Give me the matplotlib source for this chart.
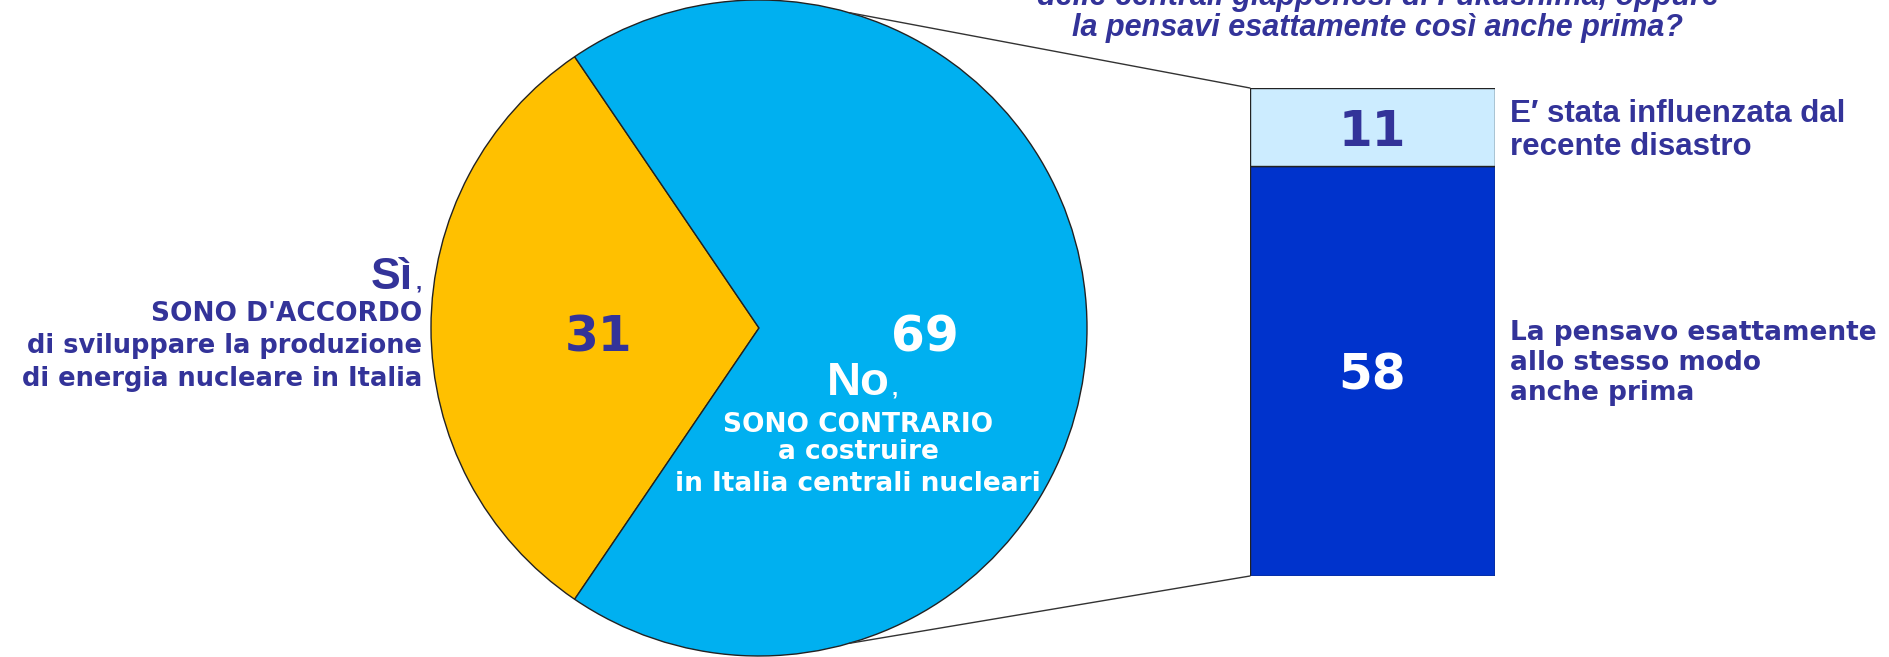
import matplotlib.pyplot as plt
from matplotlib.patches import ConnectionPatch
import numpy as np

# opinione sul nucleare (%)
pie_labels = ['Sì', 'No']
pie_values = [31, 69]
pie_colors = ['#FFC000', '#00B0F0']

# scomposizione dei "No" (%)
bar_values = [58, 11]
bar_colors = ['#0033CC', '#CCECFF']
bar_text_colors = ['white', '#333399']

title_lines = ['delle centrali giapponesi di Fukushima, oppure',
               'la pensavi esattamente così anche prima?']

navy = '#333399'
narrow = ['Liberation Sans Narrow', 'Liberation Sans', 'DejaVu Sans']
arial = ['Liberation Sans', 'DejaVu Sans']
verdana = ['DejaVu Sans']

W, H = 1890, 657
fig = plt.figure(figsize=(W / 100, H / 100), dpi=100)
ax = fig.add_axes([0, 0, 1, 1])

# torta a sinistra, coordinate in pixel con y verso l'alto
cx, cy, r = 759, 329, 328
wedges, _ = ax.pie(pie_values, colors=pie_colors, center=(cx, cy), radius=r,
                   startangle=180 - pie_values[0] * 3.6 / 2, counterclock=True,
                   wedgeprops=dict(edgecolor='#222222', linewidth=1.0))
ax.set_xlim(0, W)
ax.set_ylim(0, H)
ax.set_aspect('equal')
ax.axis('off')

# barra a destra per i "No"
bx0, bx1, by0, by1 = 1250, 1495, H - 576, H - 88
axb = fig.add_axes([bx0 / W, by0 / H, (bx1 - bx0) / W, (by1 - by0) / H])
bottom = 0
for v, c, tc in zip(bar_values, bar_colors, bar_text_colors):
    axb.bar(0, v, bottom=bottom, width=1, color=c, edgecolor='#222222', linewidth=1.0)
    axb.text(0, bottom + v / 2, str(v), ha='center', va='center_baseline', color=tc,
             fontsize=35, fontweight='bold', family=verdana)
    bottom += v
axb.set_xlim(-0.5, 0.5)
axb.set_ylim(0, sum(bar_values))
axb.axis('off')

# linee di collegamento torta -> barra
ang = np.deg2rad(74)
for sgn, yb in [(1, sum(bar_values)), (-1, 0)]:
    p = (cx + r * np.cos(ang), cy + sgn * r * np.sin(ang))
    con = ConnectionPatch(xyA=p, coordsA=ax.transData, xyB=(-0.5, yb), coordsB=axb.transData,
                          color='#333333', linewidth=1.0)
    fig.add_artist(con)

# valori della torta
ax.text(599, H - 352, str(pie_values[0]), ha='center', va='baseline', color=navy,
        fontsize=35, fontweight='bold', family=verdana)
ax.text(925, H - 352, str(pie_values[1]), ha='center', va='baseline', color='white',
        fontsize=35, fontweight='bold', family=verdana)

# etichetta "Sì"
ax.text(413, H - 289, pie_labels[0], ha='right', va='baseline', color=navy,
        fontsize=32, fontweight='bold', family=arial)
ax.text(422, H - 289, ',', ha='right', va='baseline', color=navy,
        fontsize=16, fontweight='bold', family=arial)
ax.text(422, H - 321, "SONO D'ACCORDO", ha='right', va='baseline', color=navy,
        fontsize=19, fontweight='bold', family=verdana)
ax.text(422, H - 353, 'di sviluppare la produzione', ha='right', va='baseline', color=navy,
        fontsize=18.5, fontweight='bold', family=verdana)
ax.text(422, H - 386, 'di energia nucleare in Italia', ha='right', va='baseline', color=navy,
        fontsize=18.5, fontweight='bold', family=verdana)

# etichetta "No"
ax.text(858, H - 395, pie_labels[1], ha='center', va='baseline', color='white',
        fontsize=34, fontweight='bold', family=arial)
ax.text(892, H - 395, ',', ha='left', va='baseline', color='white',
        fontsize=16, fontweight='bold', family=arial)
for txt, yy in [('SONO CONTRARIO', 432), ('a costruire', 459), ('in Italia centrali nucleari', 491)]:
    ax.text(858, H - yy, txt, ha='center', va='baseline', color='white',
            fontsize=19, fontweight='bold', family=verdana)

# etichette della barra
for txt, yy in [('E\u2032 stata influenzata dal', 122), ('recente disastro', 155)]:
    ax.text(1510, H - yy, txt, ha='left', va='baseline', color=navy,
            fontsize=22.5, fontweight='bold', family=narrow)
for txt, yy in [('La pensavo esattamente', 340), ('allo stesso modo', 370), ('anche prima', 400)]:
    ax.text(1510, H - yy, txt, ha='left', va='baseline', color=navy,
            fontsize=19, fontweight='bold', family=verdana)

# domanda (in parte tagliata in alto)
ax.text(1378, H - 5, title_lines[0], ha='center', va='baseline', color=navy,
        fontsize=22, fontweight='bold', fontstyle='italic', family=narrow)
ax.text(1378, H - 36, title_lines[1], ha='center', va='baseline', color=navy,
        fontsize=22, fontweight='bold', fontstyle='italic', family=narrow)

fig.savefig('out.png', dpi=100, facecolor='white')
